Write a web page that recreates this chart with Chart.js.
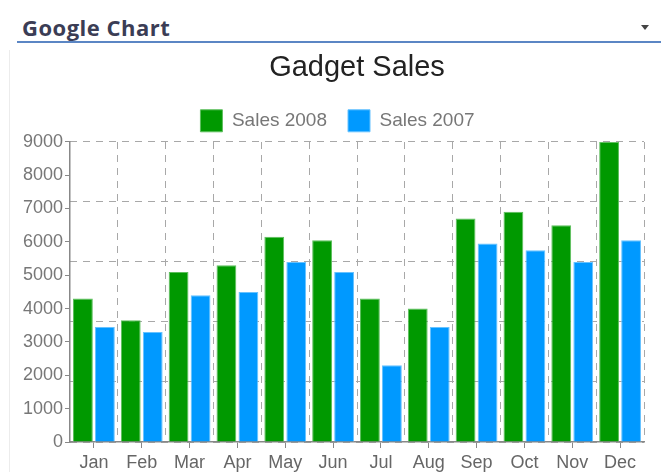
<!DOCTYPE html>
<html>
<head>
<meta charset="utf-8">
<script src="https://cdn.jsdelivr.net/npm/chart.js@4.4.0/dist/chart.umd.min.js"></script>
<style>
  html, body { margin: 0; padding: 0; background: #fff; }
  body { width: 661px; height: 472px; overflow: hidden; position: relative; }
  #hdr { position: absolute; left: 22px; top: 17px; font: 700 22px/21px 'Open Sans', sans-serif; letter-spacing: 0.5px; color: #3b3d55; white-space: nowrap; }
  #rule { position: absolute; left: 17px; top: 41px; width: 644px; height: 2px; background: #5b86c4; }
  #arrow { position: absolute; left: 641px; top: 25px; width: 0; height: 0; border-left: 4px solid transparent; border-right: 4px solid transparent; border-top: 5px solid #444; }
  #edge { position: absolute; left: 9px; top: 50px; width: 1px; height: 422px; background: #ececec; }
  #wrap { position: absolute; left: 0; top: 0; width: 661px; height: 472px; }
</style>
</head>
<body>
<div id="hdr">Google Chart</div>
<div id="rule"></div>
<div id="arrow"></div>
<div id="edge"></div>
<div id="wrap"><canvas id="c" width="661" height="472"></canvas></div>
<script>
const months = ['Jan','Feb','Mar','Apr','May','Jun','Jul','Aug','Sep','Oct','Nov','Dec'];
const sales2008 = [4300, 3650, 5100, 5300, 6150, 6050, 4300, 4000, 6700, 6900, 6500, 9000];
const sales2007 = [3450, 3300, 4400, 4500, 5400, 5100, 2300, 3450, 5950, 5750, 5400, 6050];
const yTickStep = 1000;
const gridStep = 1800;
const yMax = 9000;

const FONT = 'Liberation Sans, Arial, sans-serif';

const legendShift = {
  id: 'legendShift',
  afterLayout(chart) {
    if (chart.legend) { chart.legend.left += 9.5; chart.legend.right += 9.5; }
  }
};

new Chart(document.getElementById('c'), {
  type: 'bar',
  data: {
    labels: months,
    datasets: [
      { label: 'Sales 2008', data: sales2008, backgroundColor: '#009900', borderColor: '#5cbf5c', borderWidth: 1, categoryPercentage: 0.92, barPercentage: 0.9 },
      { label: 'Sales 2007', data: sales2007, backgroundColor: '#0099ff', borderColor: '#66c2ff', borderWidth: 1, categoryPercentage: 0.92, barPercentage: 0.9 }
    ]
  },
  plugins: [legendShift],
  options: {
    responsive: false,
    animation: false,
    layout: { padding: { top: 51, left: 12, right: 17, bottom: 0 } },
    plugins: {
      title: {
        display: true, text: 'Gadget Sales', fullSize: false, color: '#222',
        font: { family: FONT, size: 29, weight: 'normal' },
        padding: { top: 0, bottom: 3 }
      },
      legend: {
        display: true, position: 'top',
        labels: { boxWidth: 22, boxHeight: 22, padding: 21, color: '#777', font: { family: FONT, size: 19 } }
      },
      tooltip: { enabled: false }
    },
    scales: {
      x: {
        offset: true,
        grid: { offset: false, drawOnChartArea: false, drawTicks: true, tickLength: 6, tickColor: '#888', tickWidth: 1 },
        border: { display: true, color: '#888', width: 1.5 },
        ticks: { color: '#666', padding: 4, font: { family: FONT, size: 18 } },
        afterFit: s => { s.height = 30; }
      },
      x2: {
        type: 'category', labels: months, position: 'top', offset: true,
        grid: { offset: true, drawTicks: false, color: '#a8a8a8', lineWidth: 1 },
        border: { display: false, dash: [7, 6] },
        ticks: { display: false },
        afterFit: s => { s.height = 0; }
      },
      y: {
        min: 0, max: yMax,
        ticks: { stepSize: yTickStep, color: '#777', padding: 2, font: { family: FONT, size: 18 }, callback: v => String(v) },
        grid: { drawOnChartArea: false, drawTicks: true, tickLength: 5, tickColor: '#888' },
        border: { display: true, color: '#888', width: 1.5 },
        afterFit: s => { s.width = 58; }
      },
      y2: {
        type: 'linear', position: 'right', min: 0, max: yMax,
        ticks: { display: false, stepSize: gridStep },
        grid: { drawTicks: false, color: '#a8a8a8', lineWidth: 1 },
        border: { display: false, dash: [7, 6] },
        afterFit: s => { s.width = 0; }
      }
    }
  }
});
</script>
</body>
</html>
